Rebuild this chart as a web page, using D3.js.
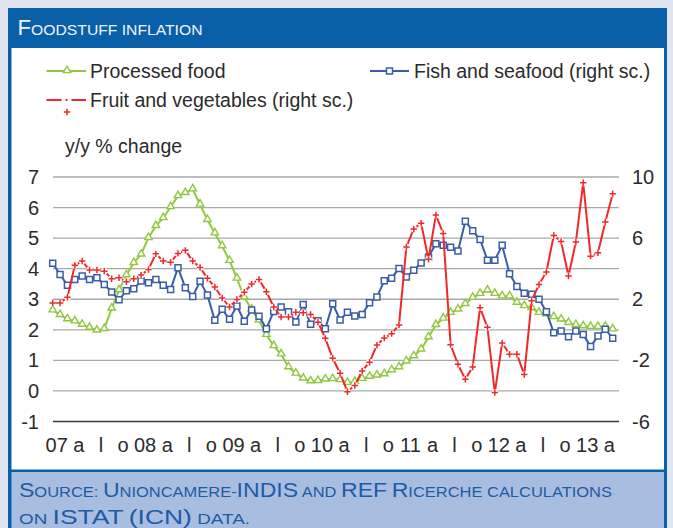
<!DOCTYPE html>
<html>
<head>
<meta charset="utf-8">
<title>Foodstuff inflation</title>
<script src="https://cdnjs.cloudflare.com/ajax/libs/d3/7.8.5/d3.min.js"></script>
<style>
  body { margin: 0; background: #dfe5f1; }
  svg text { font-family: "Liberation Sans", Arial, sans-serif; fill: #2b2b2b; }
  .caps { font-family: "Liberation Sans Narrow", "Liberation Sans", Arial, sans-serif; }
</style>
</head>
<body>
<svg id="chart" width="673" height="528"></svg>
<script>
// monthly, Jan 2007 - May 2013
var months = d3.timeMonth.range(new Date(2007, 0, 1), new Date(2013, 5, 1));
var xTickLabels = ["07","a","l","o","08","a","l","o","09","a","l","o","10","a","l","o",
                   "11","a","l","o","12","a","l","o","13","a"];
var leftTicks = [-1, 0, 1, 2, 3, 4, 5, 6, 7];
var rightTicks = [-6, -2, 2, 6, 10];

// y/y % change, left scale
var processed = [2.64, 2.49, 2.35, 2.28, 2.17, 2.07, 1.98, 2.03, 2.70, 3.30,
                 3.79, 4.19, 4.47, 5.01, 5.40, 5.66, 6.02, 6.38, 6.48, 6.60,
                 6.10, 5.60, 5.16, 4.74, 4.26, 3.68, 3.06, 2.67, 2.31, 1.84,
                 1.47, 1.20, 0.78, 0.57, 0.41, 0.32, 0.33, 0.38, 0.39, 0.36,
                 0.27, 0.30, 0.40, 0.47, 0.51, 0.55, 0.68, 0.78, 0.97, 1.14,
                 1.36, 1.76, 2.16, 2.37, 2.56, 2.67, 2.85, 3.05, 3.18, 3.29,
                 3.18, 3.10, 3.10, 2.89, 2.78, 2.72, 2.56, 2.51, 2.42, 2.34,
                 2.23, 2.16, 2.12, 2.10, 2.10, 2.10, 2.02];
// right scale
var fish = [4.35, 3.62, 2.91, 3.30, 3.52, 3.30, 3.40, 2.97, 2.47, 1.96,
            2.56, 2.69, 3.19, 3.08, 3.30, 2.91, 2.63, 4.06, 2.76, 2.18,
            3.17, 2.27, 0.62, 1.34, 0.69, 1.56, 0.56, 1.30, 0.88, 0.07,
            1.20, 1.49, 1.18, 0.51, 1.65, 0.36, 0.60, 0.07, 1.71, 0.64,
            1.15, 0.90, 1.01, 1.77, 2.14, 3.21, 3.38, 4.02, 3.46, 3.89,
            4.38, 4.75, 5.64, 5.53, 5.41, 5.15, 7.11, 6.48, 5.91, 4.56,
            4.56, 5.53, 3.67, 2.83, 2.40, 2.33, 2.00, 1.18, -0.19, -0.08,
            -0.45, -0.08, -0.30, -1.10, -0.41, 0.03, -0.55];
var fruit = [1.75, 1.75, 2.13, 4.22, 4.50, 3.91, 3.91, 3.84, 3.34, 3.41,
             3.15, 3.34, 3.58, 3.95, 4.97, 4.50, 4.42, 5.00, 5.20, 4.50,
             4.08, 3.37, 2.80, 2.08, 1.49, 1.99, 2.46, 2.99, 3.30, 2.49,
             1.49, 0.84, 0.84, 1.15, 1.12, 1.00, 0.50, -0.56, -1.86, -2.84,
             -4.05, -3.64, -2.69, -2.12, -1.00, -0.54, -0.25, 0.32, 5.42, 6.60,
             6.98, 4.61, 7.52, 6.31, -0.97, -2.26, -3.24, -2.43, 1.45, 0.16,
             -4.11, -0.86, -1.60, -1.60, -2.93, 1.90, 2.97, 3.79, 6.17, 5.78,
             3.52, 5.75, 9.62, 4.82, 5.04, 7.06, 8.91];

var green = "#92c840", blue = "#3b5ca8", red = "#f02828", frame = "#0a5fa9";

var svg = d3.select("#chart");

// frame, title bar, panel, source box
svg.append("rect").attr("x", 8).attr("y", 8).attr("width", 659).attr("height", 530).attr("fill", frame);
svg.append("rect").attr("x", 11.5).attr("y", 48).attr("width", 652.5).attr("height", 421.5).attr("fill", "#fff");
svg.append("rect").attr("x", 11.5).attr("y", 472).attr("width", 652.5).attr("height", 60).attr("fill", "#a9bde0");

// fake small caps: capitals big, everything else upper-cased and small
function smallCaps(sel, str, big, small) {
  var runs = [];
  for (var i = 0; i < str.length; i++) {
    var c = str[i];
    var isBig = /[A-Z()]/.test(c);
    if (runs.length && runs[runs.length - 1].big === isBig) runs[runs.length - 1].t += c.toUpperCase();
    else runs.push({ t: c.toUpperCase(), big: isBig });
  }
  runs.forEach(function(r) {
    sel.append("tspan").style("font-size", (r.big ? big : small) + "px").text(r.t);
  });
  return sel;
}

smallCaps(svg.append("text").attr("class", "caps").attr("x", 17.5).attr("y", 34.5)
    .attr("textLength", 185).attr("lengthAdjust", "spacingAndGlyphs").style("fill", "#eef3fb"),
  "Foodstuff inflation", 22, 15.5);

smallCaps(svg.append("text").attr("class", "caps").attr("x", 19).attr("y", 497)
    .attr("textLength", 593).attr("lengthAdjust", "spacingAndGlyphs").style("fill", "#1d5ba6"),
  "Source: Unioncamere-INDIS and REF Ricerche calculations", 21, 15);
smallCaps(svg.append("text").attr("class", "caps").attr("x", 19).attr("y", 524)
    .attr("textLength", 231).attr("lengthAdjust", "spacingAndGlyphs").style("fill", "#1d5ba6"),
  "on ISTAT (ICN) data.", 21, 15);

// scales
var x = d3.scalePoint().domain(d3.range(months.length)).range([52.7, 612.7]);
var yL = d3.scaleLinear().domain([-1, 7]).range([421.5, 177]);
var yR = d3.scaleLinear().domain([-6, 10]).range([421.5, 177]);
var plotLeft = 53, plotRight = 619;

// gridlines
svg.append("g").selectAll("line").data(leftTicks.filter(function(d) { return d > -1; })).join("line")
  .attr("x1", plotLeft).attr("x2", plotRight)
  .attr("y1", function(d) { return yL(d); }).attr("y2", function(d) { return yL(d); })
  .attr("stroke", "#a8a8a8").attr("stroke-width", 1.3);
svg.append("line").attr("x1", plotLeft).attr("x2", plotRight)
  .attr("y1", yL(-1)).attr("y2", yL(-1)).attr("stroke", "#3a3a3a").attr("stroke-width", 1.5);

// tick labels
svg.append("g").selectAll("text").data(leftTicks).join("text")
  .attr("x", 39).attr("y", function(d) { return yL(d) + 7; })
  .attr("text-anchor", "end").style("font-size", "20px").text(function(d) { return d; });
svg.append("g").selectAll("text").data(rightTicks).join("text")
  .attr("x", 632).attr("y", function(d) { return yR(d) + 7; })
  .style("font-size", "20px").text(function(d) { return d; });
svg.append("g").selectAll("text").data(xTickLabels).join("text")
  .attr("x", function(d, i) { return x(i * 3) + 4; }).attr("y", 451.5)
  .attr("text-anchor", "middle").style("font-size", "20px").text(function(d) { return d; });

svg.append("text").attr("x", 65).attr("y", 153).style("font-size", "19.5px").text("y/y % change");

// series
var lineL = d3.line().x(function(d, i) { return x(i); }).y(function(d) { return yL(d); });
var lineR = d3.line().x(function(d, i) { return x(i); }).y(function(d) { return yR(d); });
var tri = d3.symbol().type(d3.symbolTriangle).size(24)();
var sq = d3.symbol().type(d3.symbolSquare).size(36)();
var plus = "M-3.2,0H3.2M0,-3.2V3.2";

svg.append("path").attr("d", lineL(processed)).attr("fill", "none").attr("stroke", green).attr("stroke-width", 2);
svg.append("g").selectAll("path").data(processed).join("path")
  .attr("d", tri).attr("transform", function(d, i) { return "translate(" + x(i) + "," + (yL(d) - 0.5) + ")"; })
  .attr("fill", "#fff").attr("stroke", green).attr("stroke-width", 1.4);

svg.append("path").attr("d", lineR(fish)).attr("fill", "none").attr("stroke", blue).attr("stroke-width", 2);
svg.append("g").selectAll("path").data(fish).join("path")
  .attr("d", sq).attr("transform", function(d, i) { return "translate(" + x(i) + "," + yR(d) + ")"; })
  .attr("fill", "#fff").attr("stroke", blue).attr("stroke-width", 1.5);

svg.append("path").attr("d", lineR(fruit)).attr("fill", "none").attr("stroke", red).attr("stroke-width", 2);
var fm = svg.append("g").selectAll("g").data(fruit).join("g")
  .attr("transform", function(d, i) { return "translate(" + x(i) + "," + yR(d) + ")"; });
fm.append("circle").attr("r", 3.4).attr("fill", "#fff");
fm.append("path").attr("d", plus).attr("stroke", red).attr("stroke-width", 1.5);

// legend
var lg = svg.append("g");
lg.append("line").attr("x1", 46.5).attr("x2", 86).attr("y1", 71).attr("y2", 71).attr("stroke", green).attr("stroke-width", 2);
lg.append("path").attr("d", tri).attr("transform", "translate(67,70.5)").attr("fill", "#fff").attr("stroke", green).attr("stroke-width", 1.4);
lg.append("text").attr("x", 90).attr("y", 77.5).style("font-size", "19.5px").text("Processed food");

lg.append("line").attr("x1", 370).attr("x2", 409).attr("y1", 71).attr("y2", 71).attr("stroke", blue).attr("stroke-width", 2);
lg.append("path").attr("d", sq).attr("transform", "translate(389.5,71)").attr("fill", "#fff").attr("stroke", blue).attr("stroke-width", 1.5);
lg.append("text").attr("x", 414).attr("y", 77.5).style("font-size", "19.5px").text("Fish and seafood (right sc.)");

lg.append("line").attr("x1", 46.5).attr("x2", 86).attr("y1", 100).attr("y2", 100).attr("stroke", red).attr("stroke-width", 2)
  .attr("stroke-dasharray", "15,4,2,4,15");
lg.append("path").attr("d", plus).attr("transform", "translate(67,112)").attr("stroke", red).attr("stroke-width", 1.5);
lg.append("text").attr("x", 90).attr("y", 106.5).style("font-size", "19.5px").text("Fruit and vegetables (right sc.)");
</script>
</body>
</html>
